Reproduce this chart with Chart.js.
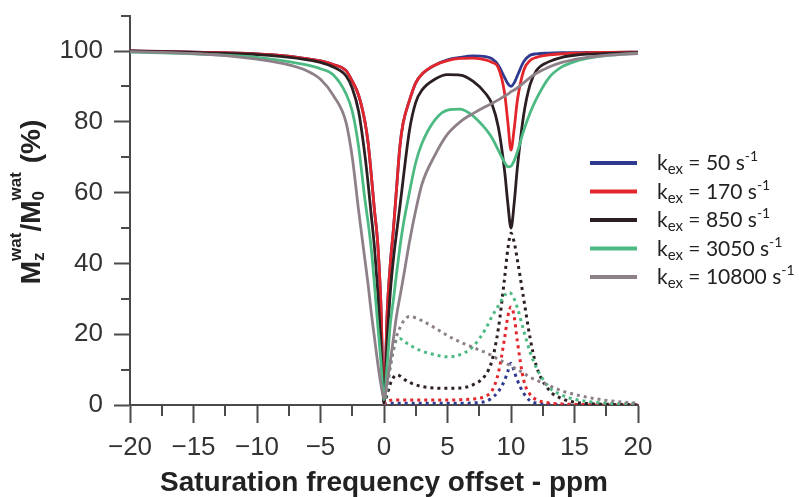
<!DOCTYPE html>
<html>
<head>
<meta charset="utf-8">
<script src="https://cdn.jsdelivr.net/npm/chart.js@4.4.0/dist/chart.umd.min.js"></script>
<style>
  body { margin: 0; background: #fff; }
  canvas { display: block; }
</style>
</head>
<body>
<canvas id="zspec" width="799" height="497"></canvas>
<script>
// saturation offsets (ppm) for the z-spectra
const ppm = [-20, -17.5, -15, -12.5, -10, -8, -6, -5, -4, -3, -2.5, -2, -1.5, -1.25, -1, -0.75, -0.5, -0.25,
  0, 0.25, 0.5, 0.75, 1, 1.25, 1.5, 2, 2.5, 3, 4, 5, 6, 7, 8, 8.5, 9, 9.5, 9.75, 10, 10.25, 10.5,
  11, 11.5, 12, 13, 14, 15, 16, 17.5, 20];

// Mz/M0 (%) - solid lines
const z50 = [100, 99.9, 99.7, 99.5, 99.2, 98.7, 97.8, 97.2, 96.2, 94.5, 91.5, 87.5, 80, 74, 65, 55, 46, 29,
  0.5, 26, 40, 50, 61.7, 73, 79.5, 86, 91, 93.5, 96, 97.5, 98.2, 98.6, 98.4, 97.8, 96, 92.5, 90.8, 90, 91, 93,
  97, 98.8, 99.2, 99.4, 99.5, 99.5, 99.6, 99.6, 99.7];
const z170 = [100, 99.9, 99.7, 99.5, 99.2, 98.7, 97.8, 97.2, 96.2, 94.5, 91.5, 87.5, 80, 74, 65, 55, 46, 29,
  0.5, 26, 40, 50, 61.7, 73, 79.5, 86, 91, 93.5, 96, 97.3, 97.9, 98, 97.5, 96.8, 95.3, 88, 80, 72, 78, 86,
  94.5, 97.3, 98.2, 98.9, 99.2, 99.4, 99.5, 99.6, 99.7];
const z850 = [100, 99.8, 99.6, 99.3, 99, 98.4, 97.5, 96.8, 95.5, 93, 89.5, 83, 70.5, 62.5, 53.5, 44.5, 32.5, 18,
  0.5, 18, 32, 41.5, 49, 56, 63.5, 77.5, 85.5, 89, 92, 93.3, 93.2, 91.5, 88, 85, 78.5, 66, 57, 50, 57, 67,
  82, 90.5, 94.5, 97, 98.2, 98.8, 99.1, 99.3, 99.5];
const z3050 = [99.7, 99.5, 99.2, 98.8, 98.2, 97.3, 96, 95, 93.3, 88, 83, 73, 58, 51.5, 44, 34, 23, 12.5,
  1.5, 11.5, 23, 30, 37.5, 44.5, 50.5, 60, 68.5, 74, 80.5, 83.3, 83.6, 81.7, 78, 75.5, 72, 68.5, 67.3, 67.5, 69, 71.5,
  77.5, 82.5, 86.5, 92.5, 95.5, 97, 97.9, 98.7, 99.4];
const z10800 = [99.8, 99.6, 99.3, 98.7, 97.7, 96.5, 94.3, 92, 87.5, 80, 70, 55, 41, 34, 26, 19, 12, 6,
  2, 6.5, 12.5, 19, 25.5, 30.5, 35.5, 46, 55, 62.5, 70.5, 76.5, 80, 82.3, 84.3, 85.2, 86.2, 87.3, 87.8, 88.5, 89, 89.6,
  91, 92.5, 93.7, 95.5, 96.8, 97.6, 98.2, 98.8, 99.3];

// asymmetry curves (dotted), only from 0 ppm upwards
const ppmPos = [0, 0.25, 0.5, 0.75, 1, 1.25, 1.5, 2, 2.5, 3, 4, 5, 6, 7, 8, 8.5, 9, 9.5, 9.75, 10, 10.25, 10.5,
  11, 11.5, 12, 13, 14, 15, 16, 17.5, 20];
const asym50 = [0, 0.4, 0.5, 0.5, 0.5, 0.5, 0.5, 0.5, 0.5, 0.5, 0.5, 0.5, 0.5, 0.6, 1, 2, 3.8, 7, 9.5, 11.8, 9.5, 7,
  3.3, 1.2, 0.5, 0.2, 0.1, 0.1, 0.1, 0.1, 0.1];
const asym170 = [0, 1, 1.3, 1.4, 1.4, 1.4, 1.4, 1.4, 1.4, 1.4, 1.4, 1.4, 1.5, 1.7, 2.5, 4, 9, 19, 25, 27.7, 25, 18,
  7, 3, 1.5, 0.6, 0.3, 0.2, 0.1, 0.1, 0.1];
const asym850 = [0, 3, 6, 7.8, 8.5, 8.2, 7.5, 6.4, 5.7, 5.2, 4.8, 4.7, 4.8, 5.7, 8.5, 12.5, 21.5, 36, 44, 48.5, 46, 41,
  30, 19, 11, 4.2, 1.8, 0.8, 0.4, 0.2, 0.1];
const asym3050 = [0, 5, 11, 15.5, 18.5, 18.8, 18.2, 17, 16, 15.2, 14.2, 13.6, 14.2, 16.5, 21.5, 25, 28, 31, 31.8, 31.5, 30, 27.5,
  21, 15, 10.5, 5, 2.8, 1.6, 1, 0.5, 0.3];
const asym10800 = [0, 5, 11, 16, 19.5, 21.8, 23.5, 25, 24.6, 23.8, 21.8, 19.6, 17.8, 16.3, 14.8, 14, 12.9, 12, 11.5, 11, 10.5, 10,
  9, 7.8, 7, 5.5, 4, 3, 2.2, 1.3, 0.5];

const kexValues = ['50', '170', '850', '3050', '10800'];
const colors = ['#2e3a8f', '#e3262b', '#2b1f22', '#4cba82', '#8e8089'];
const xTickLabels = { '-20': '\u221220', '-15': '\u221215', '-10': '\u221210', '-5': '\u22125', '0': '0', '5': '5', '10': '10', '15': '15', '20': '20' };
const yTickLabels = { 0: '0', 20: '20', 40: '40', 60: '60', 80: '80', 100: '100' };

const solid = [z50, z170, z850, z3050, z10800];
const dotted = [asym50, asym170, asym850, asym3050, asym10800];

const axisColor = '#4a4a4a';
const textColor = '#333333';
const sans = '"Liberation Sans", Arial, sans-serif';

Chart.defaults.font.family = sans;

const datasets = [];
solid.forEach((vals, i) => {
  datasets.push({
    label: 'kex ' + kexValues[i],
    data: ppm.map((x, j) => ({ x: x, y: vals[j] })),
    borderColor: colors[i],
    borderWidth: 2.8,
    order: 5 - i
  });
});
dotted.forEach((vals, i) => {
  datasets.push({
    label: 'asym ' + kexValues[i],
    data: ppmPos.map((x, j) => ({ x: x, y: vals[j] })),
    borderColor: colors[i],
    borderWidth: 3,
    borderDash: [3, 4],
    order: 20 - i
  });
});

// minor tick marks (shorter than the labelled ones)
const minorTicks = {
  id: 'minorTicks',
  afterDraw(chart) {
    const { ctx, scales: { x, y } } = chart;
    ctx.save();
    ctx.strokeStyle = axisColor;
    ctx.lineWidth = 2;
    x.ticks.forEach(t => {
      if (t.value % 5 !== 0) {
        const px = Math.round(x.getPixelForValue(t.value));
        ctx.beginPath();
        ctx.moveTo(px, y.bottom);
        ctx.lineTo(px, y.bottom + 11);
        ctx.stroke();
      }
    });
    y.ticks.forEach(t => {
      if (t.value % 20 !== 0) {
        const py = Math.round(y.getPixelForValue(t.value));
        ctx.beginPath();
        ctx.moveTo(x.left - 9, py);
        ctx.lineTo(x.left, py);
        ctx.stroke();
      }
    });
    ctx.restore();
  }
};

// rotated y title with sub/superscripts
const yTitle = {
  id: 'yTitle',
  afterDraw(chart) {
    const ctx = chart.ctx;
    const big = 'bold 28px ' + sans;
    const small = 'bold 17px ' + sans;
    const parts = [
      { t: 'M' },
      { sub: 'z', sup: 'wat' },
      { t: '/' },
      { t: 'M' },
      { sub: '0', sup: 'wat' },
      { t: ' (%)' }
    ];
    ctx.save();
    const widths = parts.map(p => {
      if (p.t) { ctx.font = big; return ctx.measureText(p.t).width; }
      ctx.font = small;
      return Math.max(ctx.measureText(p.sub).width, ctx.measureText(p.sup).width) + 1;
    });
    const total = widths.reduce((a, b) => a + b, 0);
    ctx.translate(40, 202 + total / 2);
    ctx.rotate(-Math.PI / 2);
    ctx.fillStyle = '#222';
    ctx.textBaseline = 'alphabetic';
    ctx.textAlign = 'left';
    let cx = 0;
    parts.forEach((p, i) => {
      if (p.t) {
        ctx.font = big;
        ctx.fillText(p.t, cx, 0);
      } else {
        ctx.font = small;
        ctx.fillText(p.sub, cx, 4);
        ctx.fillText(p.sup, cx, -19.5);
      }
      cx += widths[i];
    });
    ctx.restore();
  }
};

// legend on the right, k_ex = ... s^-1
const kexLegend = {
  id: 'kexLegend',
  afterDraw(chart) {
    const ctx = chart.ctx;
    const main = '21px Lato, ' + sans;
    const sub = '15px Lato, ' + sans;
    const sup = '14px Lato, ' + sans;
    ctx.save();
    kexValues.forEach((k, i) => {
      const ly = 163 + i * 28.5;
      ctx.strokeStyle = colors[i];
      ctx.lineWidth = 4;
      ctx.beginPath();
      ctx.moveTo(590, ly);
      ctx.lineTo(637, ly);
      ctx.stroke();
      ctx.fillStyle = '#222';
      ctx.textBaseline = 'alphabetic';
      let tx = 657;
      const base = ly + 7;
      ctx.font = main;
      ctx.fillText('k', tx, base);
      tx += ctx.measureText('k').width;
      ctx.font = sub;
      ctx.fillText('ex', tx, base + 4);
      tx += ctx.measureText('ex').width;
      ctx.font = main;
      const mid = ' = ' + k + ' s';
      ctx.fillText(mid, tx, base);
      tx += ctx.measureText(mid).width;
      ctx.font = sup;
      ctx.fillText('-1', tx, base - 9);
    });
    ctx.restore();
  }
};

new Chart(document.getElementById('zspec'), {
  type: 'line',
  data: { datasets: datasets },
  plugins: [minorTicks, yTitle, kexLegend],
  options: {
    responsive: false,
    animation: false,
    layout: { padding: { left: 0, right: 161, top: 15.6, bottom: 0 } },
    elements: {
      point: { radius: 0 },
      line: { cubicInterpolationMode: 'monotone', fill: false }
    },
    plugins: {
      legend: { display: false },
      tooltip: { enabled: false }
    },
    scales: {
      x: {
        type: 'linear',
        min: -20,
        max: 20,
        afterFit: s => { s.height = 92; },
        ticks: {
          stepSize: 2.5,
          autoSkip: false,
          maxRotation: 0,
          padding: 9,
          color: textColor,
          font: { size: 26 },
          callback: v => xTickLabels[v] || ''
        },
        grid: {
          display: true,
          drawOnChartArea: false,
          drawTicks: true,
          tickLength: 18,
          tickWidth: 2,
          tickColor: c => (c.tick && c.tick.value % 5 === 0) ? axisColor : 'rgba(0,0,0,0)'
        },
        border: { display: true, color: axisColor, width: 2 },
        title: {
          display: true,
          text: 'Saturation frequency offset - ppm',
          color: '#222',
          padding: 0,
          font: { size: 28, weight: 'bold', lineHeight: 1 }
        }
      },
      y: {
        min: 0,
        max: 110,
        afterFit: s => { s.width = 130; },
        ticks: {
          stepSize: 10,
          padding: 11,
          color: textColor,
          font: { size: 26, lineHeight: 0.35 },
          callback: v => yTickLabels[v] || ''
        },
        grid: {
          display: true,
          drawOnChartArea: false,
          drawTicks: true,
          tickLength: 16,
          tickWidth: 2,
          tickColor: c => (c.tick && c.tick.value % 20 === 0) ? axisColor : 'rgba(0,0,0,0)'
        },
        border: { display: true, color: axisColor, width: 2 }
      }
    }
  }
});
</script>
</body>
</html>
